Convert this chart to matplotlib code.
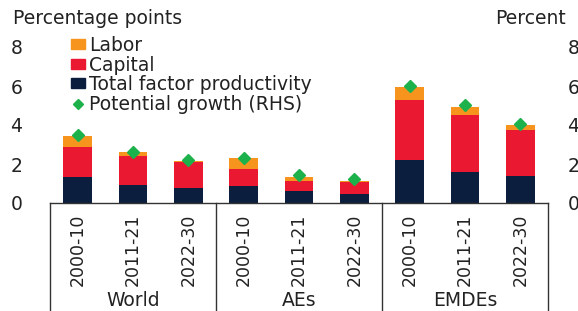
import matplotlib
matplotlib.use("Agg")
import matplotlib.pyplot as plt
from matplotlib.patches import Patch
from matplotlib.lines import Line2D
from matplotlib.transforms import blended_transform_factory
import numpy as np

plt.rcParams['font.family'] = ['DejaVu Sans']

groups = ["World", "AEs", "EMDEs"]
periods = ["2000-10", "2011-21", "2022-30"]
tfp = [1.32, 0.92, 0.75, 0.89, 0.63, 0.46, 2.20, 1.60, 1.38]
capital = [1.54, 1.48, 1.33, 0.84, 0.51, 0.60, 3.08, 2.91, 2.36]
labor = [0.59, 0.23, 0.09, 0.56, 0.21, 0.08, 0.65, 0.43, 0.26]
potential = [3.50, 2.62, 2.20, 2.32, 1.43, 1.22, 6.00, 5.03, 4.05]
yticks = [0, 2, 4, 6, 8]

c_labor = "#F7941E"
c_capital = "#EA1830"
c_tfp = "#0B1E3D"
c_pot = "#1DB14B"

W, H = 578, 311
fig = plt.figure(figsize=(W / 100, H / 100), dpi=100)
ax_l, ax_r, ax_b, ax_t = 50, 548, 203, 47
ax = fig.add_axes([ax_l / W, (H - ax_b) / H, (ax_r - ax_l) / W, (ax_b - ax_t) / H])

labels = [p for g in groups for p in periods]
x = np.arange(len(labels))
bw = 0.52
tfp_a = np.array(tfp)
cap_a = np.array(capital)
lab_a = np.array(labor)
ax.bar(x, tfp_a, bw, color=c_tfp, zorder=2)
ax.bar(x, cap_a, bw, bottom=tfp_a, color=c_capital, zorder=2)
ax.bar(x, lab_a, bw, bottom=tfp_a + cap_a, color=c_labor, zorder=2)

ax.set_xlim(-0.5, len(labels) - 0.5)
ax.set_ylim(0, 8)
ax.set_yticks(yticks)
ax.tick_params(axis='y', length=0, pad=20, labelsize=13.5, colors='#222222')
ax.set_xticks(x)
ax.set_xticklabels(labels, rotation=90, fontsize=12.5, color='#222222')
ax.tick_params(axis='x', length=0, pad=8)
for s in ['left', 'right', 'top']:
    ax.spines[s].set_visible(False)
ax.spines['bottom'].set_color('#333333')
ax.spines['bottom'].set_linewidth(1.0)

ax2 = ax.twinx()
ax2.set_ylim(0, 8)
ax2.set_yticks(yticks)
ax2.tick_params(axis='y', length=0, pad=14, labelsize=13.5, colors='#222222')
for s in ['left', 'right', 'top', 'bottom']:
    ax2.spines[s].set_visible(False)
ax2.plot(x, potential, linestyle='none', marker='D', markersize=6.5,
         color=c_pot, zorder=5)

# group boxes
bt = blended_transform_factory(ax.transData, fig.transFigure)
y0 = (H - ax_b) / H
for xs in [-0.5, 2.5, 5.5, 8.5]:
    ax.add_line(Line2D([xs, xs], [0, y0], transform=bt, color='#333333',
                       lw=1.0, clip_on=False))
for i, g in enumerate(groups):
    ax.text(3 * i + 1, (H - 300) / H, g, transform=bt, ha='center', va='center',
            fontsize=13.5, color='#222222')

fig.text(13 / W, (H - 19) / H, "Percentage points", ha='left', va='center',
         fontsize=13.5, color='#222222')
fig.text(495 / W, (H - 19) / H, "Percent", ha='left', va='center',
         fontsize=13.5, color='#222222')

handles = [Patch(color=c_labor), Patch(color=c_capital), Patch(color=c_tfp),
           Line2D([], [], linestyle='none', marker='D', markersize=5, color=c_pot)]
names = ["Labor", "Capital", "Total factor productivity", "Potential growth (RHS)"]
leg = fig.legend(handles, names, loc='upper left',
                 bbox_to_anchor=(71 / W, (H - 36) / H), frameon=False,
                 fontsize=13.5, handlelength=0.75, handleheight=0.45,
                 handletextpad=0.2, labelspacing=0.03, borderpad=0,
                 borderaxespad=0, labelcolor='#222222')

fig.savefig("out.png", dpi=100)
